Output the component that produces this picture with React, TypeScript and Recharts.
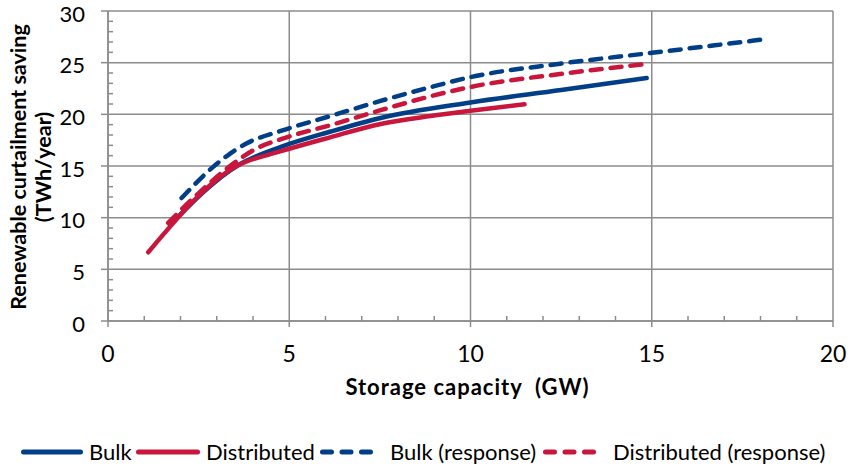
import React from 'react';
import { LineChart, Line, XAxis, YAxis, CartesianGrid, Legend } from 'recharts';

// ---- data ----
const xTicks = [0, 1, 2, 3, 4, 5, 6, 7, 8, 9, 10, 11, 12, 13, 14, 15, 16, 17, 18, 19, 20];
const yTicks = [0, 1, 2, 3, 4, 5, 6, 7, 8, 9, 10, 11, 12, 13, 14, 15, 16, 17, 18, 19, 20, 21, 22, 23, 24, 25, 26, 27, 28, 29, 30];
const xGridValues = [0, 5, 10, 15, 20];
const yGridValues = [0, 5, 10, 15, 20, 25, 30];

const bulk = [
  { x: 1.71, y: 9.3 },
  { x: 3.6, y: 15.1 },
  { x: 4.77, y: 16.85 },
  { x: 6.15, y: 18.34 },
  { x: 7.52, y: 19.65 },
  { x: 10.0, y: 21.15 },
  { x: 12.5, y: 22.35 },
  { x: 14.86, y: 23.52 },
];

const distributed = [
  { x: 1.11, y: 6.65 },
  { x: 3.55, y: 15.0 },
  { x: 4.77, y: 16.43 },
  { x: 6.15, y: 17.8 },
  { x: 7.52, y: 19.07 },
  { x: 8.9, y: 19.84 },
  { x: 10.0, y: 20.35 },
  { x: 11.49, y: 20.98 },
];

const bulkResponse = [
  { x: 2.03, y: 11.9 },
  { x: 2.91, y: 14.94 },
  { x: 3.37, y: 16.2 },
  { x: 3.83, y: 17.2 },
  { x: 4.77, y: 18.4 },
  { x: 6.15, y: 19.85 },
  { x: 7.52, y: 21.3 },
  { x: 8.9, y: 22.63 },
  { x: 10.0, y: 23.6 },
  { x: 12.47, y: 24.9 },
  { x: 15.0, y: 25.95 },
  { x: 18.2, y: 27.3 },
];

const distributedResponse = [
  { x: 1.66, y: 9.5 },
  { x: 2.54, y: 12.5 },
  { x: 3.6, y: 15.6 },
  { x: 4.1, y: 16.7 },
  { x: 4.77, y: 17.6 },
  { x: 6.15, y: 18.97 },
  { x: 7.52, y: 20.4 },
  { x: 8.9, y: 21.75 },
  { x: 10.0, y: 22.65 },
  { x: 12.47, y: 23.9 },
  { x: 14.8, y: 24.85 },
];

const BLUE = '#003F87';
const RED = '#C8163C';
const GRID = '#8C8C8C';
const FONT = 'Lato, sans-serif';

const series = [
  { key: 'bulk', name: 'Bulk', data: bulk, color: BLUE, dash: undefined as string | undefined },
  { key: 'distributed', name: 'Distributed', data: distributed, color: RED, dash: undefined as string | undefined },
  { key: 'bulkResponse', name: 'Bulk (response)', data: bulkResponse, color: BLUE, dash: '11 9' },
  { key: 'distributedResponse', name: 'Distributed (response)', data: distributedResponse, color: RED, dash: '11 9' },
];

const legendItemWidths = [115, 184, 223, 290];
const legendIconWidths = [62, 64, 57, 59];
const legendTextGaps = [6, 6, 13, 11];

const XTick = (props: any) => {
  const { x, y, payload } = props;
  const v = payload.value;
  if (v % 5 === 0) {
    return (
      <g>
        <line x1={x} x2={x} y1={y} y2={y + 6} stroke={GRID} strokeWidth={1.5} />
        <text x={x} y={y + 32} textAnchor="middle" dominantBaseline="central" fontFamily={FONT} fontSize={23} fill="#000">
          {v}
        </text>
      </g>
    );
  }
  return <line x1={x} x2={x} y1={y} y2={y - 5} stroke={GRID} strokeWidth={1.5} />;
};

const YTick = (props: any) => {
  const { x, y, payload } = props;
  const v = payload.value;
  if (v % 5 === 0) {
    return (
      <g>
        <line x1={x - 7} x2={x} y1={y} y2={y} stroke={GRID} strokeWidth={1.5} />
        <text x={x - 23} y={y + 2} textAnchor="end" dominantBaseline="central" fontFamily={FONT} fontSize={22} fill="#000">
          {v}
        </text>
      </g>
    );
  }
  return <line x1={x} x2={x + 5} y1={y} y2={y} stroke={GRID} strokeWidth={1.5} />;
};

const YTitle = (props: any) => {
  const vb = props.viewBox || { x: 0, y: 11, width: 108, height: 310 };
  const cy = vb.y + vb.height / 2 + 1;
  return (
    <g fontFamily={FONT} fontWeight="bold" fontSize={21.5} fill="#000">
      <text x={26} y={cy} transform={`rotate(-90, 26, ${cy})`} textAnchor="middle">
        Renewable curtailment saving
      </text>
      <text x={51} y={cy} transform={`rotate(-90, 51, ${cy})`} textAnchor="middle">
        (TWh/year)
      </text>
    </g>
  );
};

const XTitle = (props: any) => {
  const vb = props.viewBox || { x: 108, y: 321, width: 725, height: 146 };
  const cx = vb.x + vb.width / 2 - 3;
  return (
    <text x={cx} y={386} textAnchor="middle" dominantBaseline="central" fontFamily={FONT} fontWeight="bold" fontSize={22} letterSpacing={1} fill="#000" style={{ whiteSpace: 'pre' }}>
      {'Storage capacity\u00a0\u00a0(GW)'}
    </text>
  );
};

const renderLegend = (props: any) => {
  const payload = props.payload || [];
  const items = series.map((s) => {
    const p = payload.find((e: any) => e.value === s.name);
    return { name: s.name, color: p ? p.color : s.color, dash: s.dash };
  });
  return (
    <div style={{ display: 'flex', alignItems: 'center', paddingLeft: 21, fontFamily: FONT, fontSize: 22, color: '#000' }}>
      {items.map((it, i) => (
        <div key={it.name} style={{ display: 'flex', alignItems: 'center', width: legendItemWidths[i], flex: 'none' }}>
          <svg width={legendIconWidths[i]} height={10} style={{ flex: 'none' }}>
            <line
              x1={2.5}
              x2={legendIconWidths[i] - 2.5}
              y1={5}
              y2={5}
              stroke={it.color}
              strokeWidth={5}
              strokeLinecap="round"
              strokeDasharray={it.dash ? '9 10.5' : undefined}
            />
          </svg>
          <span style={{ marginLeft: legendTextGaps[i], whiteSpace: 'nowrap' }}>{it.name}</span>
        </div>
      ))}
    </div>
  );
};

export default function App() {
  return (
    <div style={{ position: 'absolute', left: 0, top: 0, width: 848, height: 467, background: '#fff' }}>
      <LineChart width={848} height={467} margin={{ top: 11, right: 15, bottom: 0, left: 0 }}>
        <CartesianGrid stroke={GRID} strokeWidth={1.5} verticalValues={xGridValues} horizontalValues={yGridValues} />
        <XAxis
          type="number"
          dataKey="x"
          domain={[0, 20]}
          ticks={xTicks}
          interval={0}
          height={146}
          tickSize={0}
          tickMargin={0}
          tickLine={false}
          axisLine={{ stroke: GRID, strokeWidth: 1.5 }}
          tick={XTick}
          allowDataOverflow
          label={{ content: XTitle }}
        />
        <YAxis
          type="number"
          domain={[0, 30]}
          ticks={yTicks}
          interval={0}
          width={108}
          tickSize={0}
          tickMargin={0}
          tickLine={false}
          axisLine={{ stroke: GRID, strokeWidth: 1.5 }}
          tick={YTick}
          allowDataOverflow
          label={{ content: YTitle }}
        />
        {series.map((s) => (
          <Line
            key={s.key}
            data={s.data}
            dataKey="y"
            name={s.name}
            type="monotone"
            stroke={s.color}
            strokeWidth={4.5}
            strokeLinecap="round"
            strokeDasharray={s.dash}
            dot={false}
            activeDot={false}
            isAnimationActive={false}
          />
        ))}
        <Legend
          layout="horizontal"
          verticalAlign="middle"
          align="center"
          content={renderLegend}
          wrapperStyle={{ top: 438, left: 0, width: 848, height: 26 }}
        />
      </LineChart>
    </div>
  );
}
